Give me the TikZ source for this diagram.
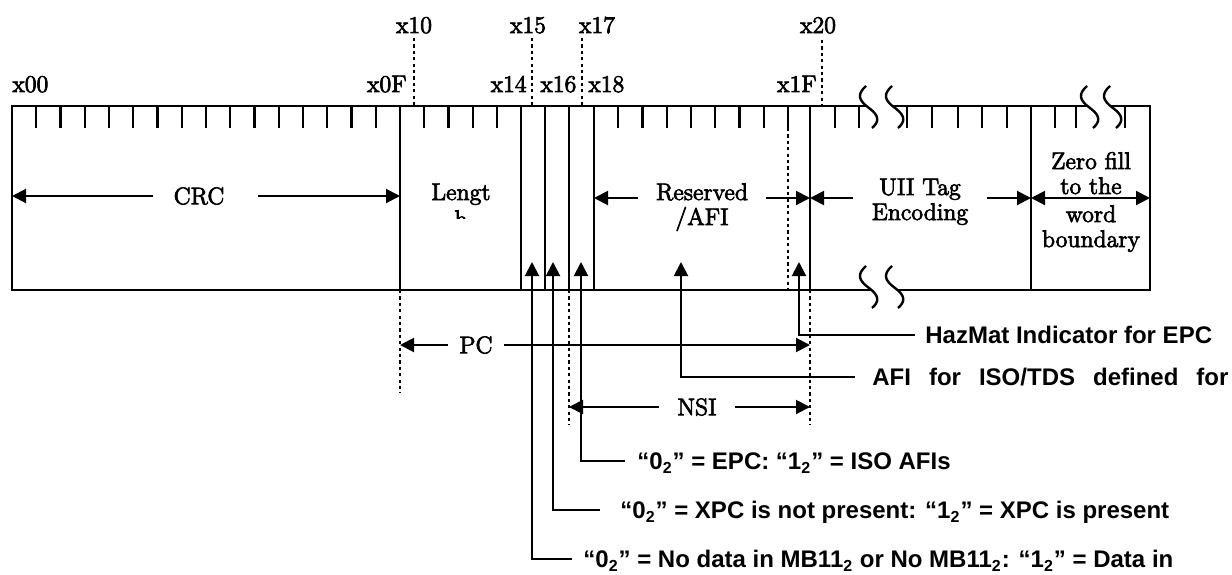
\documentclass[tikz,border=0pt]{standalone}
\usepackage{fontspec}
\newfontfamily\notefont{Liberation Sans}
\newfontfamily\serfont{Latin Modern Roman}[FakeBold=3]
\usepackage{tikz}
\usetikzlibrary{arrows.meta}
\tikzset{
	boxline/.style={line width=1.4pt},
	divider/.style={line width=1.2pt},
	bittick/.style={line width=1.1pt},
	guide/.style={line width=1.3pt,dash pattern=on 1.6pt off 1.6pt},
	dimarrow/.style={-{Triangle[length=7pt,width=7pt]},line width=1pt},
	dimboth/.style={{Triangle[length=7pt,width=7pt]}-{Triangle[length=7pt,width=7pt]},line width=1pt},
	lead/.style={-{Triangle[length=7pt,width=7pt]},line width=1pt},
	lbl/.style={font=\serfont\fontsize{12}{12.5}\selectfont,inner sep=0pt},
	field/.style={font=\serfont\fontsize{12}{12.5}\selectfont,inner ysep=0pt,text height=8.2pt,text depth=0pt},
	fieldm/.style={font=\serfont\fontsize{12}{12.5}\selectfont,align=center,inner ysep=0pt},
	note/.style={font=\notefont\bfseries\fontsize{12}{14}\selectfont,anchor=west,text height=8.6pt,text depth=0pt},
	brkmark/.pic={\draw[line width=1.2pt] (0,0) .. controls (-9,8) and (-8,14) .. (3,22) .. controls (14,30) and (13,36) .. (6,42);}
}
\begin{document}
\begin{tikzpicture}[x=0.5pt,y=-0.5pt]
		\useasboundingbox (0,0) rectangle (1232,574);
		% 字段边界
		\coordinate (d00) at (12,106);
		\coordinate (d10) at (400,106);
		\coordinate (d16) at (569,106);
		\coordinate (d18) at (594,106);
		\coordinate (d20) at (810,106);
		\coordinate (dzf) at (1031,106);
		\coordinate (dend) at (1150,106);
		\coordinate (rowin) at (0,198);
		% 外框
		\draw[boxline] (867,106) -- (12,106) -- (12,290) -- (871,290);
		\draw[boxline] (897,290) -- (1150,290) -- (1150,106) -- (1111,106);
		\draw[boxline] (893,106) -- (1088,106);
		\foreach \x in {400,521,545,569,594,810,1031}
			\draw[divider] (\x,106) -- (\x,290);
		% 刻度
		\foreach \i in {1,2,...,15}
			\draw[bittick] ({12+24.25*\i},106) -- ++(0,22);
		\foreach \i in {17,18,19,20,25,26,27,28,29,30,31,32}
			\draw[bittick] ({12+24.25*\i},106) -- ++(0,22);
		\foreach \x in {835,859,907,932,958,982,1007,1055,1076,1125}
			\draw[bittick] (\x,106) -- ++(0,22);
		% 断开符号
		\foreach \x in {866,892} {
			\pic at (\x,86) {brkmark};
			\pic at (\x,266) {brkmark};
		}
		\pic at (1087,86) {brkmark};
		\pic at (1110,86) {brkmark};
		% 虚线
		\draw[guide] (414,38) -- (414,106);
		\draw[guide] (532,38) -- (532,106);
		\draw[guide] (582,38) -- (582,108);
		\draw[guide] (822,40) -- (822,106);
		\draw[guide] (788,128) -- (788,290);
		\draw[guide] (400,290) -- (400,393);
		\draw[guide] (569,290) -- (569,425);
		\draw[guide] (810,290) -- (810,425);
		% 地址
		\node[lbl,anchor=base] (l10) at (414,33) {x10};
		\node[lbl,anchor=base] (l15) at (528,33) {x15};
		\node[lbl,anchor=base] (l17) at (597,33) {x17};
		\node[lbl,anchor=base] (l20) at (818,33) {x20};
		\node[lbl,anchor=base west] (l00) at (12,92) {x00};
		\node[lbl,anchor=base east] (l0f) at (407,92) {x0F};
		\node[lbl,anchor=base east] (l14) at (527,92) {x14};
		\node[lbl,anchor=base west] (l16) at (540,92) {x16};
		\node[lbl,anchor=base west] (l18) at (588,92) {x18};
		\node[lbl,anchor=base east] (l1f) at (817,92) {x1F};
		% 字段
		\node[field,inner xsep=10pt] (crc) at (199,196) {CRC};
		\draw[dimarrow] (crc.west) -- (crc.west -| d00);
		\draw[dimarrow] ([xshift=6.5pt]crc.east) -- (crc.east -| d10);
		\node[lbl,anchor=base] (len) at (461,200) {Lengt};
		\begin{scope}
			\clip (440,205) rectangle (482,218);
			\node[lbl,anchor=base] (lenh) at (461,227) {h};
		\end{scope}
		\node[fieldm,inner xsep=9pt,anchor=base] (res) at (702,225) {Reserved\\/AFI};
		\draw[dimarrow] (res.west |- rowin) -- (d18 |- rowin);
		\draw[dimarrow] (res.east |- rowin) -- (d20 |- rowin);
		\node[fieldm,inner xsep=9pt,anchor=base] (uii) at (920,220) {UII Tag\\Encoding};
		\draw[dimarrow] (uii.west |- rowin) -- (d20 |- rowin);
		\draw[dimarrow] (uii.east |- rowin) -- (dzf |- rowin);
		\node[fieldm,anchor=base] (zf) at (1091,194) {Zero fill\\to the};
		\node[fieldm,anchor=base] (zfb) at (1091,247) {word\\boundary};
		\draw[dimboth] (dzf |- rowin) -- (dend |- rowin);
		\node[field,inner xsep=5.5pt] (pc) at (476,345) {PC};
		\draw[dimarrow] (pc.west) -- (pc.west -| d10);
		\draw[dimarrow] (pc.east) -- (pc.east -| d20);
		\node[field,inner xsep=9pt] (nsi) at (697,407) {NSI};
		\draw[dimarrow] (nsi.west) -- (nsi.west -| d16);
		\draw[dimarrow] (nsi.east) -- (nsi.east -| d20);
		% 说明
		\coordinate (p15) at (532,262);
		\coordinate (p16) at (553,262);
		\coordinate (p17) at (581,262);
		\coordinate (pafi) at (681,262);
		\coordinate (phaz) at (799,262);
		\node[note,inner xsep=5pt] (haz) at (915,335) {HazMat Indicator for EPC};
		\node[note,inner xsep=8.5pt] (afi) at (855,377) {\makebox[178pt][s]{AFI for ISO/TDS defined for}};
		\node[note,inner xsep=6pt] (epc) at (625,461) {“0\textsubscript{2}” = EPC: “1\textsubscript{2}” = ISO AFIs};
		\node[note,inner xsep=10pt] (xpc) at (600,510) {“0\textsubscript{2}” = XPC is not present: “1\textsubscript{2}” = XPC is present};
		\node[note,inner xsep=5.5pt] (nodata) at (572,559) {“0\textsubscript{2}” = No data in MB11\textsubscript{2} or No MB11\textsubscript{2}: “1\textsubscript{2}” = Data in};
		\draw[lead] (haz.west) -| (phaz);
		\draw[lead] (afi.west) -| (pafi);
		\draw[lead] (epc.west) -| (p17);
		\draw[lead] (xpc.west) -| (p16);
		\draw[lead] (nodata.west) -| (p15);
	\end{tikzpicture}
\end{document}
